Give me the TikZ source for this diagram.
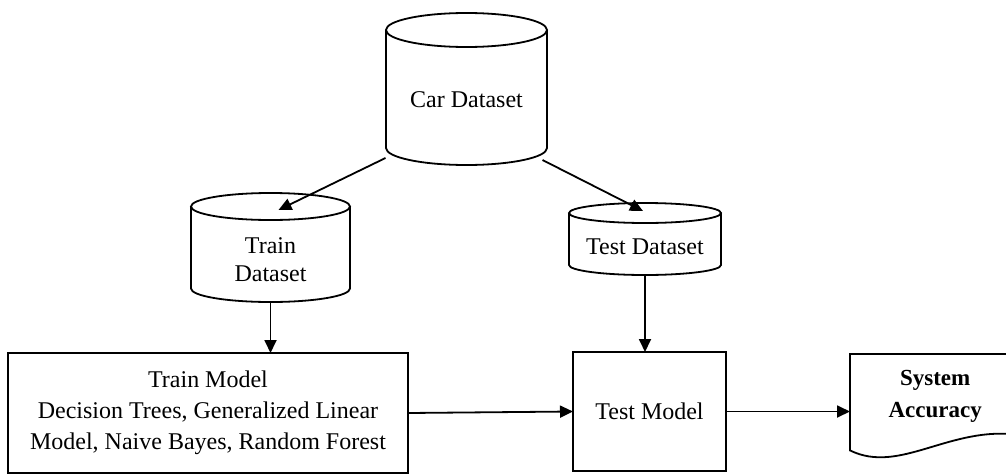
\documentclass[tikz,border=0pt]{standalone}
\usepackage{fontspec}
\setmainfont{Liberation Serif}
\usetikzlibrary{arrows.meta,positioning,calc}

\tikzset{
  dbase/.style={rectangle, inner sep=0pt, outer sep=0pt},
  dbline/.style={line width=1.8pt},
  procbox/.style={rectangle, draw, line width=1.8pt, inner sep=0pt, outer sep=0pt, align=center},
  flow/.style={line width=1.8pt, -{Triangle[length=13pt,width=12pt]}},
}
% cylinder outline round a named node: #1 node, #2 half width, #3 cap radius
\newcommand\dbdraw[3]{%
  \draw[dbline] ([yshift=-#3]#1.north west) -- ([yshift=#3]#1.south west)
    arc[start angle=180, end angle=360, x radius=#2, y radius=#3]
    -- ([yshift=-#3]#1.north east)
    ([yshift=-#3]#1.north) ellipse[x radius=#2, y radius=#3];
}

\begin{document}
\begin{tikzpicture}[x=1pt,y=-1pt,font=\fontsize{24}{31}\selectfont]
\useasboundingbox (0,0) rectangle (1006,474);
\node[dbase, minimum width=161pt, minimum height=152pt,
  label={[yshift=-11pt]center:Car Dataset}] (car) at (466.5,89) {};
\node[dbase, minimum width=159pt, minimum height=109pt,
  label={[yshift=-12pt,align=center,font=\fontsize{24}{28}\selectfont]center:Train\\Dataset}] (train) at (270.5,247.5) {};
\node[dbase, minimum width=152pt, minimum height=72pt,
  label={[yshift=-8pt]center:Test Dataset}] (test) at (645,239) {};
\dbdraw{car}{80.5pt}{17pt}
\dbdraw{train}{79.5pt}{13.5pt}
\dbdraw{test}{76pt}{10pt}
\node[procbox, minimum width=400pt, minimum height=120pt] (trainmodel) at (208,413)
  {Train Model\\Decision Trees, Generalized Linear\\Model, Naive Bayes, Random Forest};
\node[procbox, minimum width=153pt, minimum height=119pt] (testmodel) at (649.5,411.5) {Test Model};
\node[minimum width=170pt, minimum height=84pt, inner sep=0pt, anchor=north west, align=center,
  font=\fontsize{23}{32}\bfseries] (acc) at (850,354) {System\\Accuracy};
\draw[dbline] ([xshift=10pt]acc.north east) -- (acc.north west) -- ([yshift=-12pt]acc.south west)
  .. controls (900,475) and (950,425) .. (1020,435);
\draw[flow] ([xshift=-81pt,yshift=7pt]car.south) -- ([xshift=8pt,yshift=-17pt]train.north);
\draw[flow] ([xshift=76pt,yshift=5pt]car.south) -- ([xshift=-2pt,yshift=-8pt]test.north);
\draw[flow] (train.south) -- (train.south |- trainmodel.north);
\draw[flow] (test.south) -- (test.south |- testmodel.north);
\draw[flow] (trainmodel.east) -- (testmodel.west);
\draw[flow] (testmodel.east) -- (testmodel.east -| acc.west);
\end{tikzpicture}
\end{document}
